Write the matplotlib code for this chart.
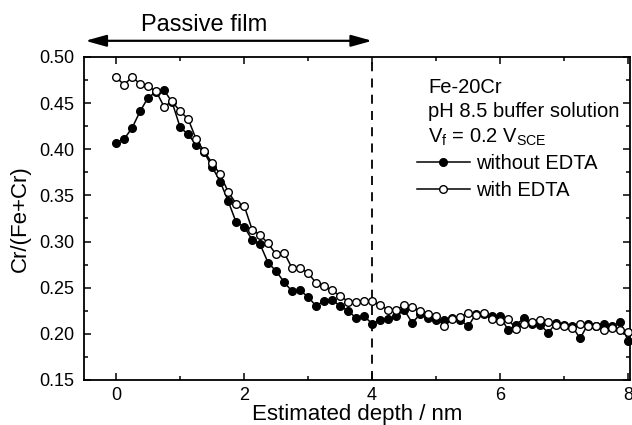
import matplotlib
matplotlib.use("Agg")
import matplotlib.pyplot as plt
from matplotlib.ticker import MultipleLocator, FormatStrFormatter

plt.rcParams['font.family'] = ['Liberation Sans', 'DejaVu Sans']
plt.rcParams['mathtext.fontset'] = 'custom'
plt.rcParams['mathtext.rm'] = 'Liberation Sans'

# depth (nm) of each sputter step
depth = [0.000, 0.125, 0.250, 0.375, 0.500, 0.625, 0.750, 0.875,
         1.000, 1.125, 1.250, 1.375, 1.500, 1.625, 1.750, 1.875,
         2.000, 2.125, 2.250, 2.375, 2.500, 2.625, 2.750, 2.875,
         3.000, 3.125, 3.250, 3.375, 3.500, 3.625, 3.750, 3.875,
         4.000, 4.125, 4.250, 4.375, 4.500, 4.625, 4.750, 4.875,
         5.000, 5.125, 5.250, 5.375, 5.500, 5.625, 5.750, 5.875,
         6.000, 6.125, 6.250, 6.375, 6.500, 6.625, 6.750, 6.875,
         7.000, 7.125, 7.250, 7.375, 7.500, 7.625, 7.750, 7.875,
         8.000]

# Cr/(Fe+Cr), without EDTA (filled)
without_edta = [0.407, 0.411, 0.423, 0.441, 0.456, 0.462, 0.464, 0.451,
                0.424, 0.416, 0.405, 0.397, 0.381, 0.365, 0.344, 0.321,
                0.316, 0.302, 0.297, 0.277, 0.268, 0.256, 0.246, 0.247,
                0.240, 0.230, 0.236, 0.237, 0.230, 0.225, 0.217, 0.219,
                0.211, 0.215, 0.216, 0.219, 0.226, 0.212, 0.221, 0.217,
                0.215, 0.215, 0.217, 0.215, 0.208, 0.222, 0.221, 0.219,
                0.219, 0.204, 0.210, 0.217, 0.211, 0.210, 0.201, 0.212,
                0.210, 0.208, 0.195, 0.211, 0.208, 0.211, 0.208, 0.213,
                0.192]

# Cr/(Fe+Cr), with EDTA (open)
with_edta = [0.478, 0.470, 0.478, 0.471, 0.468, 0.463, 0.446, 0.452,
             0.441, 0.433, 0.411, 0.398, 0.385, 0.373, 0.354, 0.341,
             0.339, 0.313, 0.307, 0.298, 0.286, 0.288, 0.271, 0.271,
             0.266, 0.255, 0.252, 0.247, 0.241, 0.235, 0.234, 0.236,
             0.236, 0.231, 0.226, 0.226, 0.231, 0.229, 0.225, 0.222,
             0.219, 0.208, 0.216, 0.218, 0.223, 0.220, 0.223, 0.216,
             0.214, 0.216, 0.205, 0.211, 0.213, 0.215, 0.213, 0.210,
             0.209, 0.206, 0.211, 0.209, 0.208, 0.204, 0.206, 0.204,
             0.202]

fig = plt.figure(figsize=(6.32, 4.25), dpi=100)
ax = fig.add_axes([0.133, 0.106, 0.864, 0.76])

ax.plot(depth, without_edta, '-o', color='k', lw=1.1, ms=5.5,
        mfc='k', mec='k', label='without EDTA', clip_on=False, zorder=3)
ax.plot(depth, with_edta, '-o', color='k', lw=1.1, ms=5.5,
        mfc='white', mec='k', mew=1.0, label='with EDTA', clip_on=False, zorder=4)

ax.axvline(4, color='k', lw=1.3, ls=(0, (5, 4)))

ax.set_xlim(-0.5, 8.03)
ax.set_ylim(0.15, 0.50)
ax.xaxis.set_major_locator(MultipleLocator(2))
ax.xaxis.set_minor_locator(MultipleLocator(1))
ax.yaxis.set_major_locator(MultipleLocator(0.05))
ax.yaxis.set_minor_locator(MultipleLocator(0.025))
ax.yaxis.set_major_formatter(FormatStrFormatter('%.2f'))
ax.tick_params(which='both', direction='in', top=True, right=True,
               labelsize=13, width=1.1)
ax.tick_params(which='major', length=5)
ax.tick_params(axis='y', which='major', pad=7)
ax.tick_params(axis='x', which='major', pad=5)
ax.tick_params(which='minor', length=3)
for s in ax.spines.values():
    s.set_linewidth(1.3)

ax.set_xlabel('Estimated depth / nm', fontsize=16, labelpad=0)
ax.set_ylabel('Cr/(Fe+Cr)', fontsize=16, labelpad=6)

# passive film arrow above the axes
ax.annotate('', xy=(-0.48, 1.05), xytext=(4.0, 1.05),
            xycoords=('data', 'axes fraction'),
            arrowprops=dict(arrowstyle='<|-|>,head_length=0.9,head_width=0.25',
                            color='k', lw=1.6, mutation_scale=14,
                            shrinkA=0, shrinkB=0),
            annotation_clip=False)
ax.text(1.38, 1.10, 'Passive film', transform=ax.get_xaxis_transform(),
        ha='center', va='center', fontsize=17)

ax.text(0.63, 0.905, 'Fe-20Cr', transform=ax.transAxes, fontsize=14.5, va='center')
ax.text(0.63, 0.83, 'pH 8.5 buffer solution', transform=ax.transAxes,
        fontsize=14.5, va='center')
ax.text(0.63, 0.75, r'V$_\mathrm{f}$ = 0.2 V$_\mathrm{SCE}$', transform=ax.transAxes,
        fontsize=14.5, va='center')

ax.legend(loc='upper left', bbox_to_anchor=(0.61, 0.70), frameon=False,
          fontsize=14.5, handlelength=2.6, handletextpad=0.3,
          labelspacing=0.4, borderpad=0, borderaxespad=0)

fig.savefig('out.png', dpi=100)
